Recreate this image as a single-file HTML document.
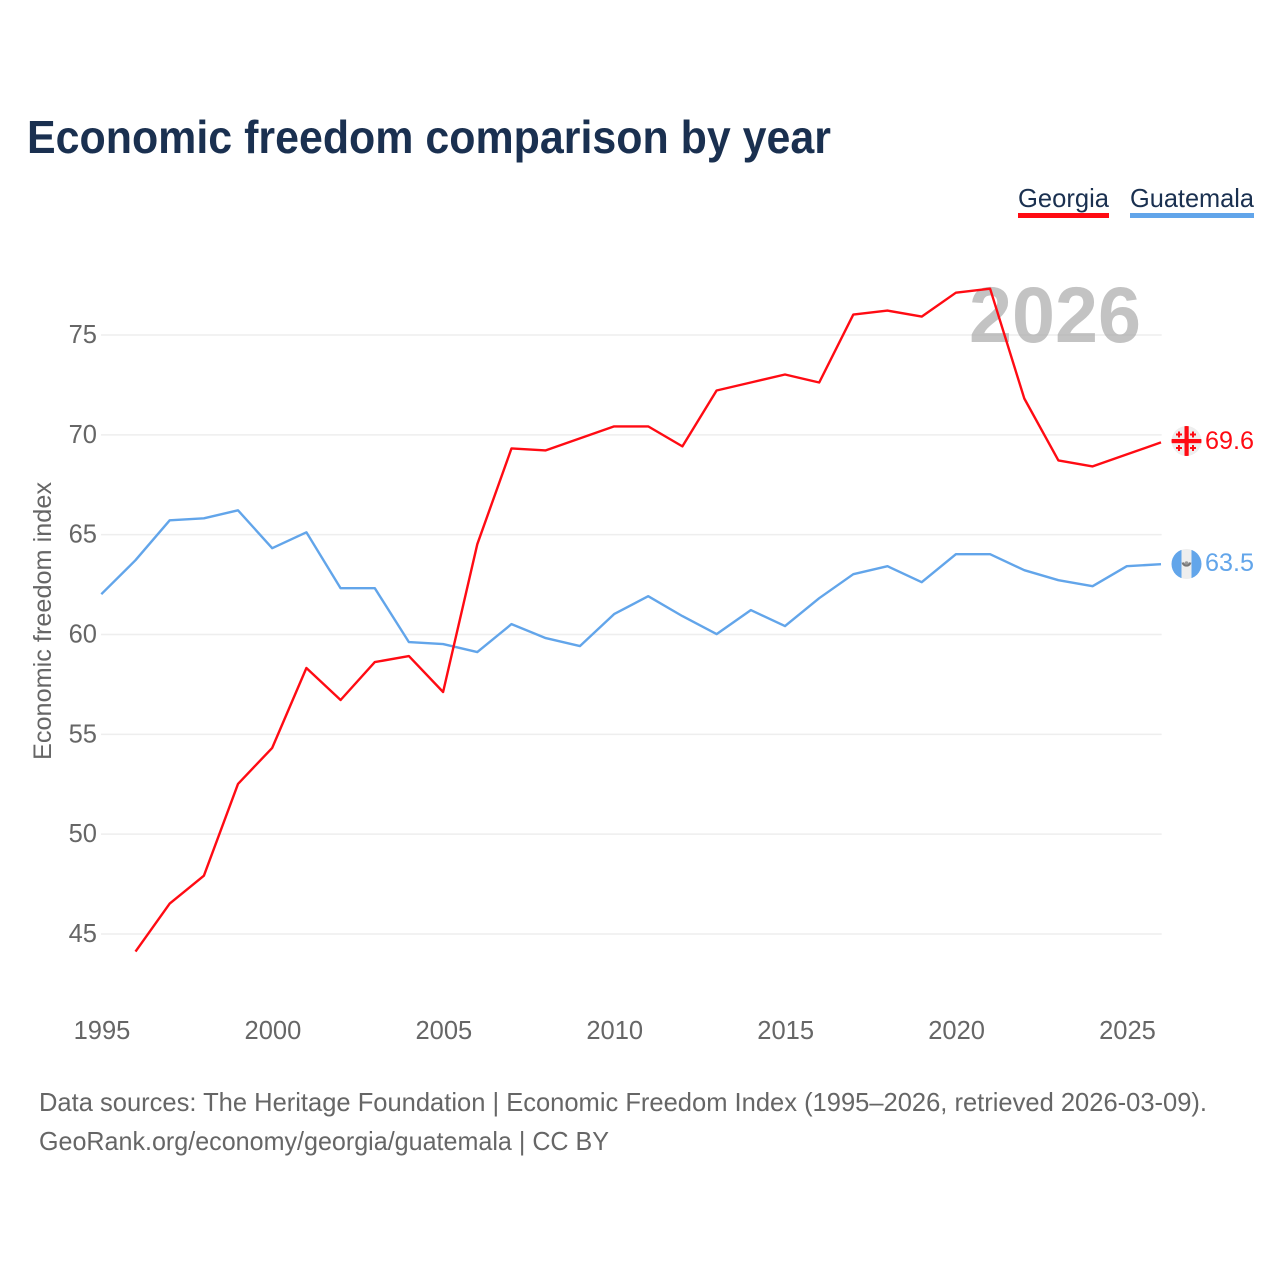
<!DOCTYPE html>
<html lang="en">
<head>
<meta charset="utf-8">
<title>Economic freedom comparison by year</title>
<style>
html,body{margin:0;padding:0;background:#fff;width:1280px;height:1280px;overflow:hidden}
svg{display:block}
text{font-family:"Liberation Sans",sans-serif}
</style>
</head>
<body>
<svg id="chart" xmlns="http://www.w3.org/2000/svg" width="1280" height="1280" viewBox="0 0 1280 1280">
  <rect width="1280" height="1280" fill="#fff"/>
  <text x="27" y="153" font-size="46" font-weight="700" fill="#1a3050" textLength="804" lengthAdjust="spacingAndGlyphs">Economic freedom comparison by year</text>

  <g>
    <g>
      <text x="1018" y="207" font-size="26" fill="#1a3050" textLength="91" lengthAdjust="spacingAndGlyphs">Georgia</text>
      <rect x="1018" y="213" width="91" height="5" fill="#ff0b13"/>
    </g>
    <g>
      <text x="1130" y="207" font-size="26" fill="#1a3050" textLength="124" lengthAdjust="spacingAndGlyphs">Guatemala</text>
      <rect x="1130" y="213" width="124" height="5" fill="#62a5ea"/>
    </g>
  </g>

  <g id="grid"></g>
  <text x="969" y="342" font-size="79" font-weight="700" fill="#a6a6a6" fill-opacity="0.68" textLength="172" lengthAdjust="spacingAndGlyphs">2026</text>
  <g id="yticks"></g>
  <g id="xticks"></g>
  <text transform="translate(51,760) rotate(-90)" x="0" y="0" font-size="25" fill="#666" textLength="278" lengthAdjust="spacingAndGlyphs">Economic freedom index</text>

  <path id="line-guatemala" transform="translate(-0.7,-0.4)" fill="none" stroke="#62a5ea" stroke-width="2.4" stroke-linejoin="round"/>
  <path id="line-georgia" transform="translate(-0.7,-0.4)" fill="none" stroke="#ff0b13" stroke-width="2.4" stroke-linejoin="round"/>

  <defs>
    <clipPath id="clip-ge"><circle cx="1186.500" cy="441" r="15"/></clipPath>
    <clipPath id="clip-gt"><circle cx="1186.500" cy="564" r="15"/></clipPath>
  </defs>
  <g id="flag-georgia" clip-path="url(#clip-ge)">
    <circle cx="1186.500" cy="441" r="15" fill="#eeeeee"/>
    <rect x="1184.500" y="426" width="4.200" height="30" fill="#ff0b13"/>
    <rect x="1171" y="439" width="31" height="4.200" fill="#ff0b13"/>
    <path d="M1178 431.500h2v2h2v2h-2v2h-2v-2h-2v-2h2zM1192 431.500h2v2h2v2h-2v2h-2v-2h-2v-2h2zM1178 445h2v2h2v2h-2v2h-2v-2h-2v-2h2zM1192 445h2v2h2v2h-2v2h-2v-2h-2v-2h2z" fill="#ff0b13"/>
  </g>
  <g id="flag-guatemala" clip-path="url(#clip-gt)">
    <rect x="1171" y="549" width="10.500" height="30" fill="#62a5ea"/>
    <rect x="1181.500" y="549" width="10" height="30" fill="#eeeeee"/>
    <rect x="1191.500" y="549" width="10.500" height="30" fill="#62a5ea"/>
    <path d="M1182.800 562.500a3.800 3.800 0 0 0 7.400 0" fill="none" stroke="#777" stroke-width="2.500"/>
    <circle cx="1186.500" cy="563" r="1.800" fill="#999"/>
  </g>
  <text id="value-georgia" x="1205" y="449" font-size="25" fill="#ff0b13" textLength="49" lengthAdjust="spacingAndGlyphs"></text>
  <text id="value-guatemala" x="1205" y="571" font-size="25" fill="#62a5ea" textLength="49" lengthAdjust="spacingAndGlyphs"></text>

  <text x="39" y="1111" font-size="26" fill="#666" textLength="1168" lengthAdjust="spacingAndGlyphs">Data sources: The Heritage Foundation | Economic Freedom Index (1995–2026, retrieved 2026-03-09).</text>
  <text x="39" y="1150" font-size="26" fill="#666" textLength="570" lengthAdjust="spacingAndGlyphs">GeoRank.org/economy/georgia/guatemala | CC BY</text>
</svg>
<script>
const years = [1995,1996,1997,1998,1999,2000,2001,2002,2003,2004,2005,2006,2007,2008,2009,2010,2011,2012,2013,2014,2015,2016,2017,2018,2019,2020,2021,2022,2023,2024,2025,2026];
const georgia = [null,44.1,46.5,47.9,52.5,54.3,58.3,56.7,58.6,58.9,57.1,64.5,69.3,69.2,69.8,70.4,70.4,69.4,72.2,72.6,73.0,72.6,76.0,76.2,75.9,77.1,77.3,71.8,68.7,68.4,69.0,69.6];
const guatemala = [62.0,63.7,65.7,65.8,66.2,64.3,65.1,62.3,62.3,59.6,59.5,59.1,60.5,59.8,59.4,61.0,61.9,60.9,60.0,61.2,60.4,61.8,63.0,63.4,62.6,64.0,64.0,63.2,62.7,62.4,63.4,63.5];
const yTickValues = [45,50,55,60,65,70,75];
const xTickValues = [1995,2000,2005,2010,2015,2020,2025];

const NS = 'http://www.w3.org/2000/svg';
const xScale = function (year) { return 102 + (year - 1995) * (1127.5 - 102) / 30; };
const yScale = function (v) { return 934 - (v - 45) * (934 - 335) / 30; };

function linePath(values) {
  let d = '';
  values.forEach(function (v, i) {
    if (v === null) return;
    d += (d ? 'L' : 'M') + xScale(years[i]).toFixed(1) + ' ' + yScale(v).toFixed(1);
  });
  return d;
}

document.getElementById('line-georgia').setAttribute('d', linePath(georgia));
document.getElementById('line-guatemala').setAttribute('d', linePath(guatemala));

const gridGroup = document.getElementById('grid');
const yGroup = document.getElementById('yticks');
yTickValues.forEach(function (v) {
  const line = document.createElementNS(NS, 'line');
  
  
  line.setAttribute('x1', 101);
  line.setAttribute('x2', xScale(2026));
  line.setAttribute('y1', yScale(v));
  line.setAttribute('y2', yScale(v));
  line.setAttribute('stroke', '#eeeeee');
  line.setAttribute('stroke-width', '1.500');
  gridGroup.appendChild(line);

  const label = document.createElementNS(NS, 'text');
  
  
  label.setAttribute('x', 97);
  label.setAttribute('y', yScale(v) + 8);
  label.setAttribute('text-anchor', 'end');
  label.setAttribute('font-size', '25.500');
  label.setAttribute('fill', '#666');
  label.textContent = v;
  yGroup.appendChild(label);
});

const xGroup = document.getElementById('xticks');
xTickValues.forEach(function (y) {
  const label = document.createElementNS(NS, 'text');
  
  
  label.setAttribute('x', xScale(y));
  label.setAttribute('y', 1039);
  label.setAttribute('text-anchor', 'middle');
  label.setAttribute('font-size', '25.500');
  label.setAttribute('fill', '#666');
  label.textContent = y;
  xGroup.appendChild(label);
});

document.getElementById('value-georgia').textContent = georgia[georgia.length - 1].toFixed(1);
document.getElementById('value-guatemala').textContent = guatemala[guatemala.length - 1].toFixed(1);
</script>
</body>
</html>
